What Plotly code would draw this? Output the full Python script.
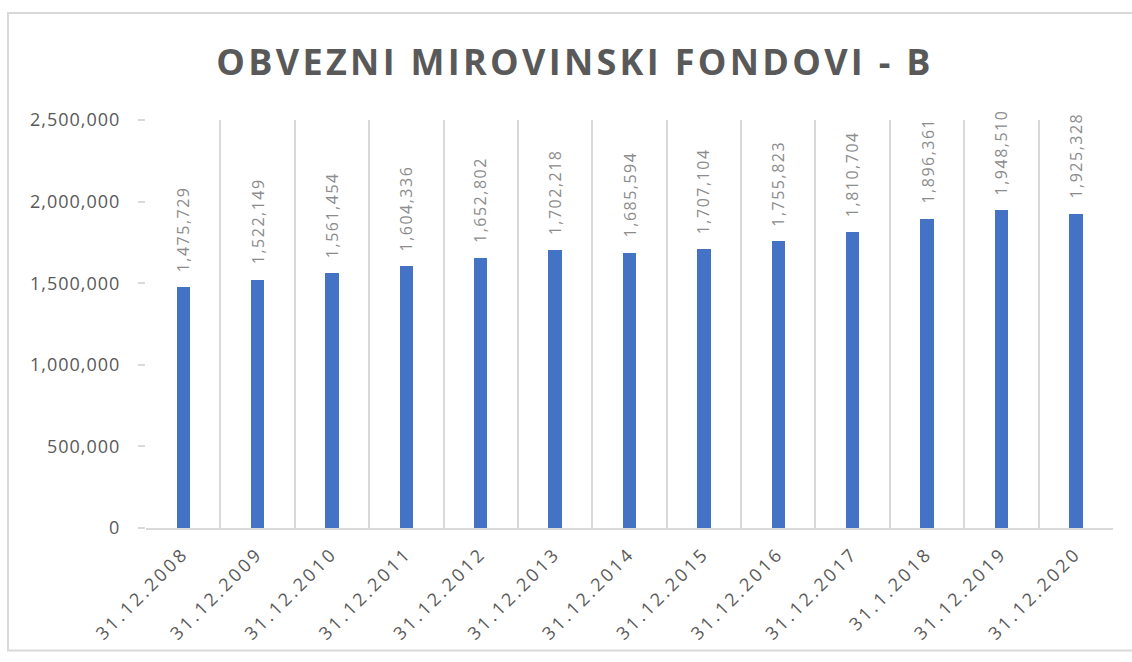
import plotly.graph_objects as go

categories = ["31.12.2008", "31.12.2009", "31.12.2010", "31.12.2011", "31.12.2012",
              "31.12.2013", "31.12.2014", "31.12.2015", "31.12.2016", "31.12.2017",
              "31.1.2018", "31.12.2019", "31.12.2020"]
values = [1475729, 1522149, 1561454, 1604336, 1652802, 1702218, 1685594,
          1707104, 1755823, 1810704, 1896361, 1948510, 1925328]
y_ticks = [0, 500000, 1000000, 1500000, 2000000, 2500000]
title_text = "OBVEZNI MIROVINSKI FONDOVI - B"

FONT = "Open Sans"
grid = "#d9d9d9"

fig = go.Figure(go.Bar(
    x=categories, y=values, width=0.18,
    marker=dict(color="#4472c4", line=dict(width=0)),
    hoverinfo="x+y",
))

annotations = [
    dict(x=c, y=v, xref="x", yref="y", showarrow=False, textangle=-90,
         text=f"<span style='letter-spacing:1.5px'>{v:,}</span>",
         xanchor="center", yanchor="bottom", yshift=13,
         font=dict(family=FONT, size=16, color="#8c8c8c"))
    for c, v in zip(categories, values)
]

fig.update_layout(
    width=1132, height=662,
    margin=dict(l=146, r=19, t=120, b=134),
    paper_bgcolor="white", plot_bgcolor="white",
    showlegend=False,
    annotations=annotations,
    title=dict(text=f"<span style='letter-spacing:3.3px'>{title_text}</span>",
               x=0.508, xanchor="center", y=0.906, yanchor="middle",
               font=dict(family=FONT, size=36, color="#595959", weight="bold")),
    xaxis=dict(type="category", tickson="boundaries", showgrid=True, gridcolor=grid,
               gridwidth=2, showline=True, linecolor=grid, linewidth=2,
               ticks="", tickangle=-45, automargin=False, ticklabelstandoff=6,
               tickvals=categories,
               ticktext=[f"<span style='letter-spacing:3px'>{c}</span>" for c in categories],
               tickfont=dict(family=FONT, size=18, color="#595959")),
    yaxis=dict(range=[0, 2500000], tickvals=y_ticks,
               ticktext=[f"<span style='letter-spacing:1px'>{t:,}</span>" for t in y_ticks],
               showgrid=False, zeroline=False, showline=False, automargin=False,
               ticks="outside", ticklen=7, tickcolor=grid, tickwidth=2,
               ticklabelstandoff=14,
               tickfont=dict(family=FONT, size=18, color="#595959")),
    bargap=0,
    shapes=[dict(type="rect", xref="paper", yref="paper", x0=-0.1427, x1=1.05,
                 y0=-0.3, y1=1.262, line=dict(color=grid, width=2))],
)

fig.write_html("out.html", config={"displayModeBar": False},
               post_script="document.body.style.margin='0';")
